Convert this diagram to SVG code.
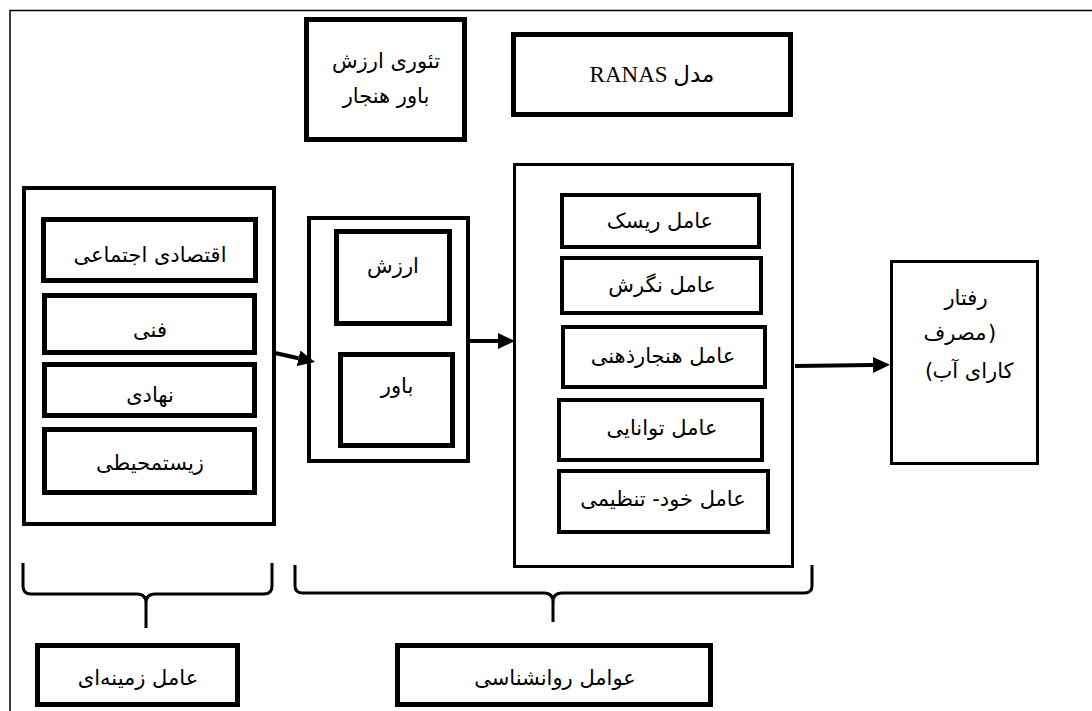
<svg xmlns="http://www.w3.org/2000/svg" width="1092" height="711" viewBox="0 0 1092 711">
<style>
.t{font-family:"DejaVu Sans","Noto Sans",sans-serif;font-size:21px;fill:#000;text-anchor:middle}
.p{font-family:"DejaVu Sans","Noto Sans",sans-serif;font-size:21px;fill:#000;text-anchor:start}
.s{font-family:"Liberation Serif","DejaVu Sans",serif;font-size:23px;fill:#000;text-anchor:middle}
.b5{fill:#fff;stroke:#000;stroke-width:5}
.b4{fill:#fff;stroke:#000;stroke-width:4}
.b3{fill:#fff;stroke:#000;stroke-width:3}
.c{fill:none;stroke:#000;stroke-width:4}
.br{fill:none;stroke:#000;stroke-width:3}
</style>
<defs>
<marker id="ah" markerUnits="userSpaceOnUse" markerWidth="18" markerHeight="17" refX="0" refY="8" orient="auto">
<path d="M0,0 L17,8 L0,16 Z" fill="#000"/>
</marker>
</defs>
<rect width="1092" height="711" fill="#fff"/>
<g id="frame" fill="none" stroke="#000" stroke-width="1.5">
<path d="M10,711 L10,10.5 L1092,10.5"/>
</g>
<g id="theory">
<rect class="b5" x="306.5" y="19.5" width="158" height="120"/>
<text class="t" x="386" y="68">تئوری ارزش</text>
<text class="t" x="386" y="103">باور هنجار</text>
</g>
<g id="ranas-title">
<rect class="b5" x="513.5" y="34.5" width="277" height="80"/>
<text class="s" x="652" y="82">RANAS مدل</text>
</g>
<g id="context-group">
<rect class="b4" x="24" y="188" width="250" height="336"/>
</g>
<g id="socio-economic">
<rect class="b5" x="43.5" y="219.5" width="212" height="61"/>
<text class="t" x="150" y="262">اقتصادی اجتماعی</text>
</g>
<g id="technical">
<rect class="b5" x="44.5" y="295.5" width="210" height="57"/>
<text class="t" x="150" y="337">فنی</text>
</g>
<g id="institutional">
<rect class="b5" x="44.5" y="364.5" width="210" height="51"/>
<text class="t" x="150" y="402">نهادی</text>
</g>
<g id="environmental">
<rect class="b5" x="44.5" y="429.5" width="210" height="63"/>
<text class="t" x="150" y="470">زیستمحیطی</text>
</g>
<g id="vbn-group">
<rect class="b4" x="309" y="218" width="159" height="243"/>
</g>
<g id="value">
<rect class="b5" x="336.5" y="231.5" width="113" height="92"/>
<text class="t" x="393" y="273">ارزش</text>
</g>
<g id="belief">
<rect class="b5" x="340.5" y="354.5" width="112" height="91"/>
<text class="t" x="397" y="393">باور</text>
</g>
<g id="ranas-group">
<rect class="b3" x="514.5" y="164.5" width="278" height="402"/>
</g>
<g id="risk">
<rect class="b4" x="562" y="195" width="197" height="52"/>
<text class="t" x="660" y="228">عامل ریسک</text>
</g>
<g id="attitude">
<rect class="b4" x="562" y="258" width="199" height="55"/>
<text class="t" x="662" y="292">عامل نگرش</text>
</g>
<g id="norm">
<rect class="b4" x="563" y="327" width="202" height="60"/>
<text class="t" x="663" y="363">عامل هنجارذهنی</text>
</g>
<g id="ability">
<rect class="b4" x="559" y="400" width="203" height="60"/>
<text class="t" x="662" y="435">عامل توانایی</text>
</g>
<g id="self-regulation">
<rect class="b4" x="559" y="471" width="209" height="61"/>
<text class="t" x="663" y="506">عامل خود- تنظیمی</text>
</g>
<g id="behavior">
<rect class="b3" x="891.5" y="261.5" width="146" height="202"/>
<text class="t" x="966" y="305">رفتار</text>
<text class="t" x="955" y="340">مصرف</text>
<text class="p" x="988" y="340">)</text>
<text class="p" x="925" y="378">(</text>
<text class="t" x="973" y="378">کارای آب</text>
</g>
<g id="context-label">
<rect class="b5" x="37.5" y="645.5" width="200" height="59"/>
<text class="t" x="138" y="685">عامل زمینه‌ای</text>
</g>
<g id="psych-label">
<rect class="b5" x="397.5" y="645.5" width="313" height="59"/>
<text class="t" x="555" y="685">عوامل روانشناسی</text>
</g>
<g id="connectors">
<line class="c" x1="275" y1="353" x2="298.5" y2="358.3" marker-end="url(#ah)"/>
<line class="c" x1="470" y1="341" x2="498" y2="341" marker-end="url(#ah)"/>
<line class="c" x1="795" y1="366" x2="873" y2="365" marker-end="url(#ah)"/>
<path class="br" d="M23,563 L23,586 Q23,594 31,594 L137,594 Q146,594 146,603 L146,628 M146,603 Q146,594 155,594 L264,594 Q272,594 272,586 L272,563"/>
<path class="br" d="M295,565 L295,586 Q295,593 303,593 L544,593 Q553,593 553,602 L553,622 M553,602 Q553,593 562,593 L804,593 Q812,593 812,586 L812,565"/>
</g>
</svg>
